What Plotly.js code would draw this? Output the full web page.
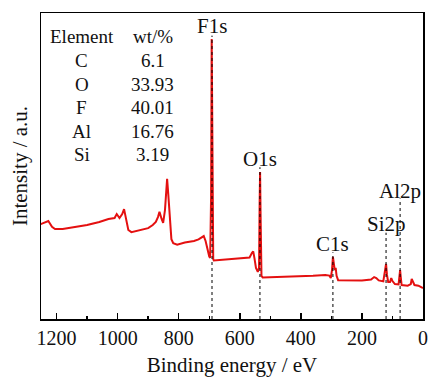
<!DOCTYPE html>
<html>
<head>
<meta charset="utf-8">
<script src="https://cdn.plot.ly/plotly-3.0.1.min.js"></script>
<style>
  html, body { margin: 0; padding: 0; background: #fff; }
  #chart { width: 428px; height: 378px; }
</style>
</head>
<body>
<div id="chart"></div>
<script>
// XPS survey spectrum: binding energy (eV) and intensity (a.u.)
const bindingEnergy = [
  1252, 1240, 1227, 1215, 1205, 1180, 1150, 1100, 1060, 1030, 1010, 1003, 994, 985, 979, 972,
  965, 955, 930, 900, 885, 875, 868, 863, 856, 851, 845, 840, 838, 834, 828, 824,
  818, 805, 780, 750, 735, 725, 718, 712, 706, 700, 697, 694, 692, 690, 687, 685,
  660, 620, 585, 568, 560, 556, 552, 547, 541, 537, 535, 533.5, 532, 529, 525,
  480, 420, 360, 320, 307, 302, 298, 295, 292, 289, 286, 283, 278,
  250, 200, 170, 160, 153, 145, 130, 124, 121, 118, 114, 108, 104, 100, 92,
  80, 77.5, 75, 72.5, 70, 50, 40, 37, 33, 28, 15, 5, 0
];
const intensity = [
  31.0, 31.4, 32.0, 30.1, 29.4, 29.4, 29.9, 30.7, 31.7, 32.7, 33.0, 34.3, 33.0, 34.3, 35.9, 33.0,
  29.1, 28.4, 28.9, 29.7, 30.7, 31.7, 33.3, 35.0, 32.7, 31.4, 35.6, 43.8, 45.8, 40.5, 30.7, 26.1,
  24.8, 24.3, 25.0, 25.5, 26.0, 26.5, 27.1, 25.5, 22.5, 20.4, 20.0, 39.9, 91.5, 39.9, 19.6, 19.1,
  19.3, 19.6, 19.9, 20.1, 21.6, 22.1, 19.9, 16.7, 15.4, 16.7, 38.0, 48.0, 35.0, 14.1, 13.6,
  13.7, 13.9, 14.1, 14.4, 14.2, 13.4, 16.0, 20.3, 17.0, 16.0, 16.7, 14.1, 12.7,
  12.6, 12.6, 12.9, 13.7, 13.4, 12.6, 12.3, 15.3, 18.0, 14.4, 12.1, 12.1, 13.4, 12.4, 11.4,
  11.3, 14.4, 16.0, 13.4, 11.1, 10.9, 11.4, 13.1, 12.1, 11.1, 10.9, 10.3, 10.1
];

// Peak assignments
const peakNames = ['F1s', 'O1s', 'C1s', 'Si2p', 'Al2p'];
const peakEnergies = [691, 534, 295, 121, 75];

// Surface composition
const elements = ['C', 'O', 'F', 'Al', 'Si'];
const wtPercent = [6.1, 33.93, 40.01, 16.76, 3.19];

const serif = 'Liberation Serif';

// label heights (a.u.) and where each guide line starts
const labelY = [95.6, 52.4, 24.6, 31.0, 41.8];
const guideTop = [92.6, 49.6, 21.8, 28.2, 39.4];

const shapes = peakEnergies.map((e, i) => ({
  type: 'line', xref: 'x', yref: 'y',
  x0: e, x1: e, y0: 0, y1: guideTop[i],
  line: { color: '#000', width: 1, dash: 'dot' }
}));

const annotations = peakNames.map((n, i) => ({
  x: peakEnergies[i], y: labelY[i], xref: 'x', yref: 'y',
  text: n, showarrow: false, xanchor: 'center', yanchor: 'middle',
  font: { family: serif, size: 21, color: '#111' }
}));

// composition table in the upper-left corner
const colX = [0.107, 0.293];
const rowY0 = 0.922, rowStep = 0.0771;
annotations.push(
  { x: colX[0], y: rowY0, text: 'Element' },
  { x: colX[1], y: rowY0, text: 'wt/%' }
);
elements.forEach((el, i) => {
  annotations.push({ x: colX[0], y: rowY0 - rowStep * (i + 1), text: el });
  annotations.push({ x: colX[1], y: rowY0 - rowStep * (i + 1), text: String(wtPercent[i]) });
});
for (let k = peakNames.length; k < annotations.length; k++) {
  Object.assign(annotations[k], {
    xref: 'paper', yref: 'paper', showarrow: false,
    xanchor: 'center', yanchor: 'middle',
    font: { family: serif, size: 19, color: '#111' }
  });
}

const trace = {
  x: bindingEnergy, y: intensity,
  type: 'scatter', mode: 'lines',
  line: { color: '#e41010', width: 2, shape: 'linear' },
  hoverinfo: 'skip'
};

const layout = {
  width: 428, height: 378,
  margin: { l: 41, r: 5, t: 13, b: 59 },
  paper_bgcolor: '#fff', plot_bgcolor: '#fff',
  showlegend: false,
  font: { family: serif, color: '#111' },
  xaxis: {
    range: [1251, 0], autorange: false,
    tickmode: 'linear', tick0: 0, dtick: 200,
    ticks: 'inside', ticklen: 6, tickwidth: 1.5, tickcolor: '#000',
    minor: { dtick: 100, tick0: 0, ticks: 'inside', ticklen: 3, tickwidth: 1.5, tickcolor: '#000' },
    showline: true, linecolor: '#000', linewidth: 1.5, mirror: true,
    showgrid: false, zeroline: false,
    ticklabeloverflow: 'allow',
    tickfont: { family: serif, size: 20, color: '#111' },
    title: { text: 'Binding energy / eV', font: { family: serif, size: 21, color: '#111' }, standoff: 10 }
  },
  yaxis: {
    range: [0, 100], autorange: false,
    showticklabels: false, ticks: '',
    showline: true, linecolor: '#000', linewidth: 1.5, mirror: true,
    showgrid: false, zeroline: false,
    title: { text: 'Intensity / a.u.', font: { family: serif, size: 21, color: '#111' }, standoff: 6 }
  },
  shapes: shapes,
  annotations: annotations
};

Plotly.newPlot('chart', [trace], layout, { displayModeBar: false, staticPlot: true });
</script>
</body>
</html>
